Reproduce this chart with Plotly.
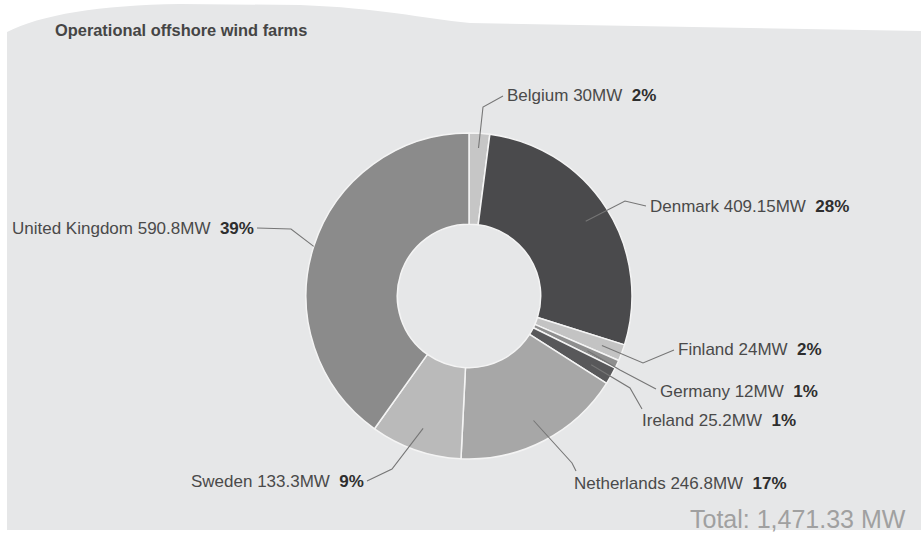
import math
import plotly.graph_objects as go

# ---- data ----
countries = ["Belgium", "Denmark", "Finland", "Germany", "Ireland",
             "Netherlands", "Sweden", "United Kingdom"]
capacity_mw = [30, 409.15, 24, 12, 25.2, 246.8, 133.3, 590.8]
capacity_text = ["30MW", "409.15MW", "24MW", "12MW", "25.2MW",
                 "246.8MW", "133.3MW", "590.8MW"]
share_text = ["2%", "28%", "2%", "1%", "1%", "17%", "9%", "39%"]
title_text = "Operational offshore wind farms"
total_text = "Total: 1,471.33 MW"

# ---- styles / layout ----
slice_colors = ["#c6c6c6", "#4a4a4c", "#c3c3c3", "#8e8e8e", "#58585a",
                "#a7a7a7", "#bababa", "#8b8b8b"]
W, H = 921, 533
CX, CY, R = 469, 296, 163
HOLE = 0.44

# label placement (pixel layout): anchor radius fraction, elbow points, label pos, xanchor
label_layout = {
    "Belgium":        dict(rf=0.91, pts=[(483, 107), (503, 96)], pos=(505, 95), xa="left"),
    "Denmark":        dict(rf=0.85, pts=[(625, 201), (646, 206)], pos=(648, 206), xa="left"),
    "Finland":        dict(rf=0.87, pts=[(643, 363), (674, 350)], pos=(676, 349), xa="left"),
    "Germany":        dict(rf=0.80, pts=[(620, 370), (656, 389)], pos=(658, 391), xa="left"),
    "Ireland":        dict(rf=0.86, pts=[(630, 388), (642, 409)], pos=(640, 420), xa="left"),
    "Netherlands":    dict(rf=0.86, pts=[(572, 463), (576, 471)], pos=(572, 483), xa="left"),
    "Sweden":         dict(rf=0.86, pts=[(392, 469), (367, 481)], pos=(366, 481), xa="right"),
    "United Kingdom": dict(rf=1.00, pts=[(291, 229), (257, 228)], pos=(256, 228), xa="right"),
}

fig = go.Figure()

fig.add_trace(go.Pie(
    labels=countries,
    values=capacity_mw,
    sort=False,
    direction="clockwise",
    rotation=0,
    hole=HOLE,
    textinfo="none",
    hoverinfo="label+value",
    marker=dict(colors=slice_colors, line=dict(color="#f4f4f4", width=1.5)),
    domain=dict(x=[(CX - R) / W, (CX + R) / W],
                y=[(H - CY - R) / H, (H - CY + R) / H]),
    showlegend=False,
))

# invisible pixel-space axes for shapes and annotations
fig.add_trace(go.Scatter(x=[0, W], y=[0, H], mode="markers",
                         marker=dict(opacity=0), hoverinfo="skip", showlegend=False))

shapes = []
# grey panel with wavy top
shapes.append(dict(
    type="path", xref="x", yref="y", layer="below",
    path="M 7,32 C 40,15 100,5 180,4 L 300,5 C 380,8 420,18 470,23 L 921,31 L 921,530 L 7,530 Z",
    fillcolor="#e6e7e8", line=dict(width=0),
))

annotations = []
total = sum(capacity_mw)
cum = 0.0
for name, val, cap, shr in zip(countries, capacity_mw, capacity_text, share_text):
    mid = (cum + val / 2) / total
    cum += val
    ll = label_layout[name]
    th = 2 * math.pi * mid
    ax = CX + ll["rf"] * R * math.sin(th)
    ay = CY - ll["rf"] * R * math.cos(th)
    pts = [(ax, ay)] + ll["pts"]
    path = "M " + " L ".join(f"{px:.1f},{py:.1f}" for px, py in pts)
    shapes.append(dict(type="path", xref="x", yref="y", path=path,
                       line=dict(color="#767676", width=1.1), layer="above"))
    annotations.append(dict(
        x=ll["pos"][0], y=ll["pos"][1], xref="x", yref="y",
        xanchor=ll["xa"], yanchor="middle", showarrow=False,
        text=f"{name} {cap}\u00a0 <b><span style='color:#2e2e2e'>{shr}</span></b>",
        font=dict(family="Liberation Sans, Arial, sans-serif", size=17, color="#4a4a4a"),
    ))

annotations.append(dict(
    x=53, y=30, xref="x", yref="y", xanchor="left", yanchor="middle",
    showarrow=False, text=f"<b>{title_text}</b>",
    font=dict(family="Liberation Sans, Arial, sans-serif", size=16.4, color="#454545"),
))
annotations.append(dict(
    x=908, y=519, xref="x", yref="y", xanchor="right", yanchor="middle",
    showarrow=False, text=total_text,
    font=dict(family="Liberation Sans, Arial, sans-serif", size=25, color="#a0a0a0"),
))

fig.update_layout(
    width=W, height=H,
    margin=dict(l=0, r=0, t=0, b=0),
    paper_bgcolor="white", plot_bgcolor="rgba(0,0,0,0)",
    xaxis=dict(range=[0, W], visible=False, fixedrange=True, domain=[0, 1]),
    yaxis=dict(range=[H, 0], visible=False, fixedrange=True, domain=[0, 1]),
    shapes=shapes, annotations=annotations,
)

fig.write_html("out.html", config={"displayModeBar": False},
               post_script="document.body.style.margin='0';document.body.style.overflow='hidden';")
